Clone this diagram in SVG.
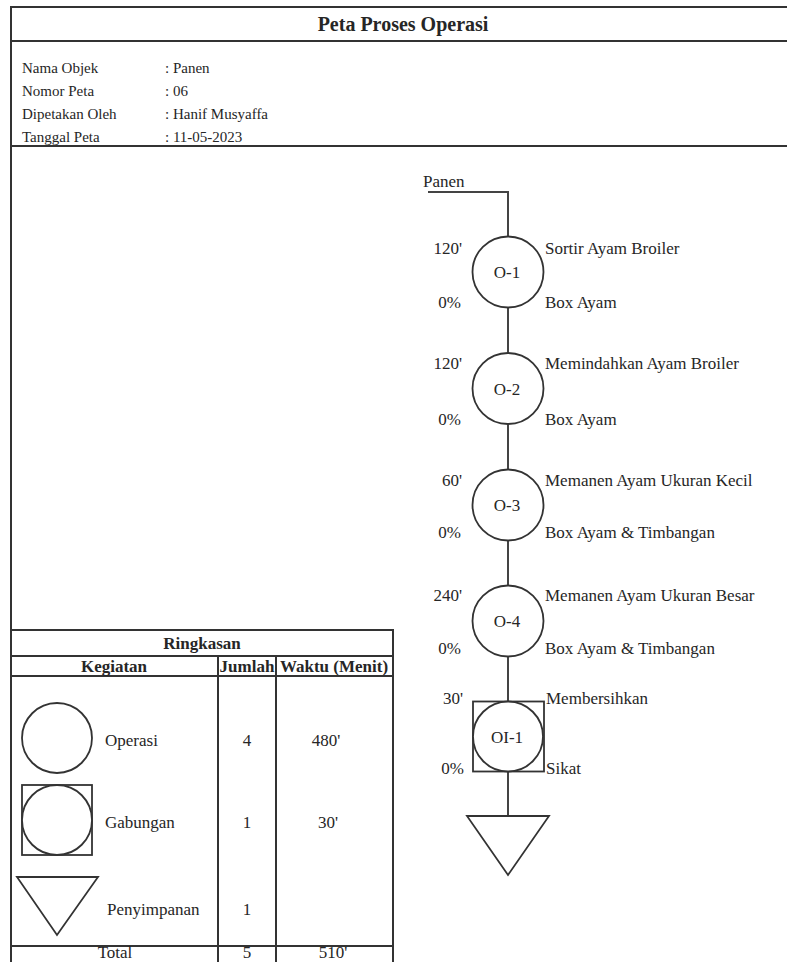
<svg xmlns="http://www.w3.org/2000/svg" width="787" height="962" viewBox="0 0 787 962">
<style>
.frame{stroke:#333;stroke-width:2;fill:none}
.sym{stroke:#333;stroke-width:1.8;fill:#fff}
.flow{stroke:#444;stroke-width:2;fill:none}
text{font-family:"Liberation Serif","Times New Roman",serif;fill:#262626}
.title{font-size:20px;font-weight:bold}
.info{font-size:15px}
.lbl{font-size:17px}
.th{font-size:17px;font-weight:bold}
.mid{text-anchor:middle}
.end{text-anchor:end}
</style>
<rect width="787" height="962" fill="#fff"/>
<g id="frame">
<line class="frame" x1="11" y1="7" x2="787" y2="7"/>
<line class="frame" x1="11" y1="41" x2="787" y2="41"/>
<line class="frame" x1="11" y1="146" x2="787" y2="146"/>
<line class="frame" x1="11" y1="6" x2="11" y2="962"/>
<text class="title mid" x="403" y="31">Peta Proses Operasi</text>
</g>
<g id="info">
<text class="info" x="22" y="73">Nama Objek</text>
<text class="info" x="165" y="73">: Panen</text>
<text class="info" x="22" y="96">Nomor Peta</text>
<text class="info" x="165" y="96">: 06</text>
<text class="info" x="22" y="119">Dipetakan Oleh</text>
<text class="info" x="165" y="119">: Hanif Musyaffa</text>
<text class="info" x="22" y="142">Tanggal Peta</text>
<text class="info" x="165" y="142">: 11-05-2023</text>
</g>
<g id="connectors">
<polyline class="flow" points="428,192 508,192 508,237"/>
<line class="flow" x1="508" y1="308" x2="508" y2="353"/>
<line class="flow" x1="508" y1="424" x2="508" y2="470"/>
<line class="flow" x1="508" y1="541" x2="508" y2="586"/>
<line class="flow" x1="508" y1="657" x2="508" y2="702"/>
<line class="flow" x1="508" y1="771" x2="508" y2="816"/>
</g>
<g id="start">
<text class="lbl" x="423" y="187">Panen</text>
</g>
<g id="O-1">
<circle class="sym" cx="508" cy="272" r="35.5"/>
<text class="lbl mid" x="507" y="278">O-1</text>
<text class="lbl end" x="462" y="254">120'</text>
<text class="lbl end" x="461" y="308">0%</text>
<text class="lbl" x="545" y="254">Sortir Ayam Broiler</text>
<text class="lbl" x="545" y="308">Box Ayam</text>
</g>
<g id="O-2">
<circle class="sym" cx="508" cy="388.5" r="35.5"/>
<text class="lbl mid" x="507" y="395">O-2</text>
<text class="lbl end" x="462" y="369">120'</text>
<text class="lbl end" x="461" y="425">0%</text>
<text class="lbl" x="545" y="369">Memindahkan Ayam Broiler</text>
<text class="lbl" x="545" y="425">Box Ayam</text>
</g>
<g id="O-3">
<circle class="sym" cx="508" cy="505" r="35.5"/>
<text class="lbl mid" x="507" y="511">O-3</text>
<text class="lbl end" x="462" y="486">60'</text>
<text class="lbl end" x="461" y="538">0%</text>
<text class="lbl" x="545" y="486">Memanen Ayam Ukuran Kecil</text>
<text class="lbl" x="545" y="538">Box Ayam &amp; Timbangan</text>
</g>
<g id="O-4">
<circle class="sym" cx="508" cy="621" r="35.5"/>
<text class="lbl mid" x="507" y="627">O-4</text>
<text class="lbl end" x="462" y="601">240'</text>
<text class="lbl end" x="461" y="654">0%</text>
<text class="lbl" x="545" y="601">Memanen Ayam Ukuran Besar</text>
<text class="lbl" x="545" y="654">Box Ayam &amp; Timbangan</text>
</g>
<g id="OI-1">
<rect class="sym" x="473" y="701.5" width="71" height="70"/>
<circle class="sym" cx="508" cy="736.5" r="35"/>
<text class="lbl mid" x="507" y="743">OI-1</text>
<text class="lbl end" x="463" y="704">30'</text>
<text class="lbl end" x="464" y="774">0%</text>
<text class="lbl" x="546" y="704">Membersihkan</text>
<text class="lbl" x="546" y="774">Sikat</text>
</g>
<g id="storage">
<polygon class="sym" points="467,816 549,816 508,875"/>
</g>
<g id="summary">
<polyline class="frame" points="11,630 393,630 393,962"/>
<line class="frame" x1="11" y1="656" x2="393" y2="656"/>
<line class="frame" x1="11" y1="676" x2="393" y2="676"/>
<line class="frame" x1="218" y1="656" x2="218" y2="962"/>
<line class="frame" x1="276" y1="656" x2="276" y2="962"/>
<line class="frame" x1="11" y1="946" x2="393" y2="946"/>
<text class="th mid" x="202" y="649">Ringkasan</text>
<text class="th mid" x="114" y="672">Kegiatan</text>
<text class="th mid" x="247" y="672">Jumlah</text>
<text class="th mid" x="334" y="672">Waktu (Menit)</text>
<circle class="sym" cx="57" cy="738" r="35"/>
<text class="lbl" x="105" y="746">Operasi</text>
<text class="lbl mid" x="247" y="746">4</text>
<text class="lbl mid" x="326" y="746">480'</text>
<rect class="sym" x="22" y="785" width="70" height="70"/>
<circle class="sym" cx="57" cy="820" r="35"/>
<text class="lbl" x="105" y="828">Gabungan</text>
<text class="lbl mid" x="247" y="828">1</text>
<text class="lbl mid" x="328" y="828">30'</text>
<polygon class="sym" points="17,877 98,877 57,935"/>
<text class="lbl" x="107" y="915">Penyimpanan</text>
<text class="lbl mid" x="247" y="915">1</text>
<text class="lbl mid" x="115" y="958" font-size="16">Total</text>
<text class="lbl mid" x="247" y="958" font-size="16">5</text>
<text class="lbl mid" x="333" y="958" font-size="16">510'</text>
</g>
</svg>
